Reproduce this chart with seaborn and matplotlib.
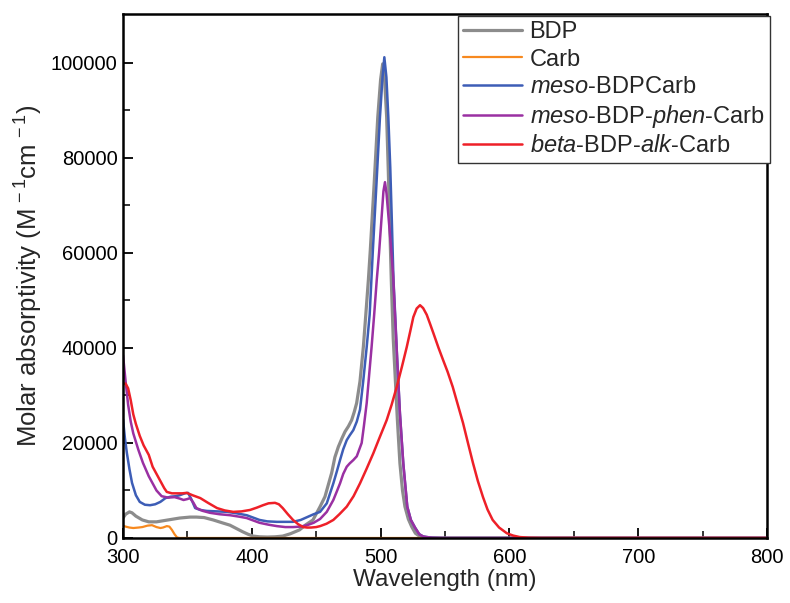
import numpy as np
import pandas as pd
import matplotlib
matplotlib.use("Agg")
import matplotlib.pyplot as plt
import seaborn as sns

# ---------------- data ----------------
bdp_x = [300, 302, 305, 307, 310, 315, 320, 326, 335, 344, 352, 357, 363, 370, 377, 383,
         388, 393, 397, 401, 406, 412, 418, 424, 430, 437, 442, 447.5, 453, 456.8, 462,
         464.5, 467.2, 470, 472.4, 475, 477.5, 479.5, 481.4, 484, 486.6, 488.5, 490.5, 492,
         495, 497.8, 500, 501.6, 503.2, 504.7, 506, 507.2, 508.3, 509.8, 511.5, 513, 515,
         517, 518.9, 521.5, 524.1, 527, 530.6, 536, 545, 600, 700, 800]
bdp_y = [4200, 5000, 5500, 5300, 4600, 3800, 3400, 3400, 3800, 4200, 4400, 4400, 4300, 3800,
         3200, 2700, 2000, 1300, 800, 400, 250, 200, 250, 400, 900, 1700, 2800, 3800, 6600,
         8700, 13700, 17000, 19200, 21000, 22400, 23500, 24800, 26500, 28400, 33000, 40200,
         47000, 54300, 60600, 74600, 88600, 96500, 99800, 96000, 88600, 77000, 65000, 54300,
         42000, 33000, 25000, 15700, 10000, 6600, 4000, 2400, 1000, 300, 50, 0, 0, 0, 0]

carb_x = [300, 302, 305, 308, 312, 315, 319, 322.5, 326, 329, 331, 334, 336, 338, 340, 342,
          344, 400, 500, 600, 700, 800]
carb_y = [2600, 2400, 2200, 2100, 2200, 2300, 2600, 2700, 2300, 2100, 2200, 2500, 2400, 1700,
          800, 100, 0, 0, 0, 0, 0, 0]

meso_x = [300, 301.5, 303, 305, 307, 310, 313, 317, 321, 325, 329, 333, 337, 341, 344, 348,
          350.5, 353, 356, 360, 365, 373, 381, 388, 396, 401, 406, 412, 419.5, 426, 432, 438,
          443, 448, 453, 458.2, 463.3, 466, 468.5, 471, 473.7, 476, 478.8, 481.5, 484, 486.5,
          489.2, 491.5, 494, 496.8, 499.5, 501.5, 502.9, 504.5, 506, 507.5, 508.8, 510,
          511.3, 512.8, 515, 517.6, 520.7, 523.5, 526.7, 530, 533.2, 540, 548, 600, 700, 800]
meso_y = [25000, 21000, 17900, 14500, 11600, 9000, 7600, 7000, 6900, 7100, 7600, 8400, 8700,
          8800, 9000, 9400, 9500, 8200, 6300, 5900, 5700, 5600, 5500, 5200, 4800, 4300, 3800,
          3500, 3400, 3400, 3400, 3800, 4400, 5000, 5500, 7300, 11500, 14000, 16400, 18700,
          20600, 21600, 22700, 24500, 27000, 33000, 40200, 47000, 60600, 74600, 88600, 97000,
          101200, 97000, 88600, 78000, 66000, 54300, 47000, 38000, 26200, 15700, 6600, 3800,
          2200, 800, 300, 50, 0, 0, 0, 0]

phen_x = [300, 302, 304, 306, 308, 312, 315.5, 320, 326, 330, 335, 340, 344, 347, 350, 352,
          354.5, 357, 362, 367.5, 375, 383, 390, 396, 401, 406, 413, 419.5, 426, 432, 438,
          443, 448, 453, 458.2, 463.3, 466, 468.5, 471, 473.7, 476, 478.8, 481.5, 485.3, 487,
          489.2, 491, 493, 495, 497, 498.8, 500.8, 502.2, 503.4, 504.6, 506, 508, 509.8, 511,
          512.8, 515, 517.6, 520.7, 523.5, 526.7, 530, 533.2, 540, 548, 600, 700, 800]
phen_y = [38500, 33000, 28000, 24500, 22000, 18500, 15800, 13000, 10000, 8800, 8500, 8600,
          8300, 8000, 8200, 8400, 7500, 6300, 5700, 5300, 5000, 4800, 4500, 4200, 3700, 3200,
          2800, 2500, 2300, 2300, 2400, 2700, 3200, 4000, 5500, 8000, 9800, 11500, 13500,
          15000, 15700, 16400, 17200, 20000, 23500, 28400, 34000, 40200, 47000, 54300, 60000,
          67600, 73000, 74900, 72500, 68000, 61500, 55000, 48000, 38000, 26200, 15700, 6600,
          3800, 2200, 800, 300, 50, 0, 0, 0, 0]

beta_x = [300, 302, 304, 306, 308, 310, 313, 316, 320, 323, 326, 329, 332, 334, 338, 342,
          346, 349.5, 354, 360, 366, 373, 379, 385.6, 392, 398.6, 404, 408.7, 413, 418, 421,
          424, 428, 432, 436, 440, 443, 446, 450, 453, 458, 463.3, 468, 473.7, 479, 484, 489,
          494.3, 499, 504.7, 508.5, 512.5, 516.5, 520.3, 523, 525.4, 528, 530.6, 533, 535.8,
          538.5, 541, 545, 548.6, 552, 556, 560, 564, 568, 571.7, 575.5, 579.5, 583, 587,
          592, 598, 603, 608, 615, 625, 700, 800]
beta_y = [32500, 32500, 31500, 29000, 26000, 24000, 21500, 19500, 17500, 15000, 13500, 12000,
          10500, 9700, 9400, 9400, 9400, 9500, 9000, 8400, 7400, 6300, 5800, 5500, 5600, 5900,
          6400, 6900, 7300, 7400, 7100, 6300, 5000, 3800, 2900, 2300, 2200, 2200, 2300, 2500,
          3000, 3800, 5000, 6600, 8800, 11500, 14500, 17800, 21000, 24800, 28000, 31800,
          36000, 40200, 43500, 46500, 48300, 49000, 48400, 47000, 45000, 43100, 40000, 37400,
          35000, 31800, 28000, 24200, 19800, 15800, 12000, 8600, 6000, 3800, 2200, 1000, 500,
          200, 50, 0, 0, 0]

labels = ["BDP", "Carb", r"$\mathit{meso}$-BDPCarb",
          r"$\mathit{meso}$-BDP-$\mathit{phen}$-Carb", r"$\mathit{beta}$-BDP-$\mathit{alk}$-Carb"]
series = [(bdp_x, bdp_y), (carb_x, carb_y), (meso_x, meso_y), (phen_x, phen_y), (beta_x, beta_y)]
colors = ["#8c8c8c", "#f7891f", "#3d5db6", "#9a30a2", "#ee2028"]
widths = [2.3, 1.6, 1.8, 1.8, 1.8]

x_ticks = [300, 400, 500, 600, 700, 800]
y_ticks = [0, 20000, 40000, 60000, 80000, 100000]

# ---------------- style ----------------
sns.set_style("ticks")
plt.rcParams["font.family"] = ["Liberation Sans", "DejaVu Sans"]
plt.rcParams["mathtext.fontset"] = "custom"
plt.rcParams["mathtext.rm"] = "Liberation Sans"
plt.rcParams["mathtext.it"] = "Liberation Sans:italic"
plt.rcParams["mathtext.bf"] = "Liberation Sans:bold"

fig = plt.figure(figsize=(7.9, 6.03), dpi=100)
ax = fig.add_axes([0.1557, 0.1078, 0.8152, 0.869])

frames = []
for lab, (xs, ys) in zip(labels, series):
    frames.append(pd.DataFrame({"Wavelength": xs, "Absorptivity": ys, "Compound": lab}))
df = pd.concat(frames, ignore_index=True)

for lab, col, lw in zip(labels, colors, widths):
    sub = df[df["Compound"] == lab]
    sns.lineplot(data=sub, x="Wavelength", y="Absorptivity", ax=ax, color=col,
                 linewidth=lw, label=lab, estimator=None, sort=False)

ax.set_xlim(300, 800)
ax.set_ylim(0, 110300)
ax.set_xticks(x_ticks)
ax.set_yticks(y_ticks)
ax.set_xticks(np.arange(350, 800, 100), minor=True)
ax.set_yticks(np.arange(10000, 110000, 20000), minor=True)
ax.set_xticklabels([str(t) for t in x_ticks])
ax.set_yticklabels([str(t) for t in y_ticks])

ax.tick_params(axis="both", which="major", direction="in", length=7, width=1.3,
               labelsize=14.5, colors="black")
ax.tick_params(axis="y", which="major", pad=4)
ax.tick_params(axis="x", which="major", pad=7)
ax.tick_params(axis="both", which="minor", direction="in", length=5, width=1.3)
for s in ax.spines.values():
    s.set_visible(True)
    s.set_linewidth(1.8)
    s.set_color("black")

ax.set_xlabel("Wavelength (nm)", fontsize=17.5, labelpad=2)
ax.set_ylabel(r"Molar absorptivity (M$^{\,-1}$cm$^{\,-1}$)", fontsize=18.5, labelpad=4)

leg = ax.legend(loc="upper right", bbox_to_anchor=(1.005, 0.997), borderaxespad=0.0,
                fontsize=17, frameon=True, fancybox=False, shadow=False,
                handlelength=2.5, handletextpad=0.3, labelspacing=0.22,
                borderpad=0.25)
leg.get_frame().set_edgecolor("#333333")
leg.get_frame().set_linewidth(1.0)
leg.get_frame().set_alpha(1)

fig.savefig("out.png", dpi=100)
